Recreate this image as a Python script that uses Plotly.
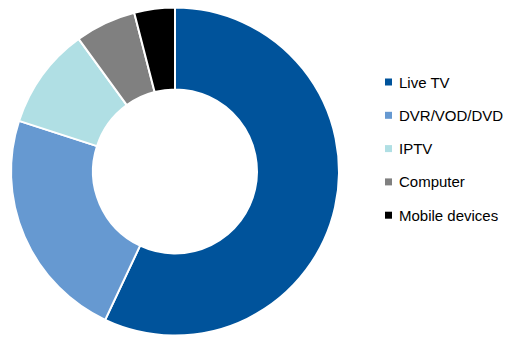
import plotly.graph_objects as go

# Viewing share by platform (%)
labels = ["Live TV", "DVR/VOD/DVD", "IPTV", "Computer", "Mobile devices"]
shares = [57, 23, 10, 6, 4]
colors = ["#00539B", "#6699D1", "#B0DFE4", "#808080", "#000000"]

W, H = 510, 341

fig = go.Figure()

fig.add_trace(go.Pie(
    labels=labels,
    values=shares,
    hole=0.5,
    sort=False,
    direction="clockwise",
    rotation=0,
    marker=dict(colors=colors, line=dict(color="white", width=2)),
    textinfo="none",
    hoverinfo="label+percent",
    showlegend=False,
    domain=dict(x=[0.0216, 0.6647], y=[0.0161, 0.978]),
))

# Hand-placed legend: a small square swatch and a label per platform
sw_left, sw_size = 385, 7
text_left = 397
row0, row_step = 82, 33.3
shapes, annotations = [], []
for i, (name, col) in enumerate(zip(labels, colors)):
    yc = row0 + i * row_step
    shapes.append(dict(
        type="rect", xref="paper", yref="paper",
        x0=sw_left / W, x1=(sw_left + sw_size) / W,
        y0=1 - (yc + sw_size / 2) / H, y1=1 - (yc - sw_size / 2) / H,
        fillcolor=col, line=dict(width=0),
    ))
    annotations.append(dict(
        text=name, xref="paper", yref="paper",
        x=text_left / W, y=1 - yc / H,
        xanchor="left", yanchor="middle", showarrow=False,
        font=dict(size=15, color="#000000"),
    ))

fig.update_layout(
    width=W, height=H,
    margin=dict(l=0, r=0, t=0, b=0),
    paper_bgcolor="white",
    plot_bgcolor="white",
    font=dict(family="Liberation Sans, Arial, sans-serif", size=15, color="#000000"),
    shapes=shapes,
    annotations=annotations,
)

fig.write_html("out.html")
